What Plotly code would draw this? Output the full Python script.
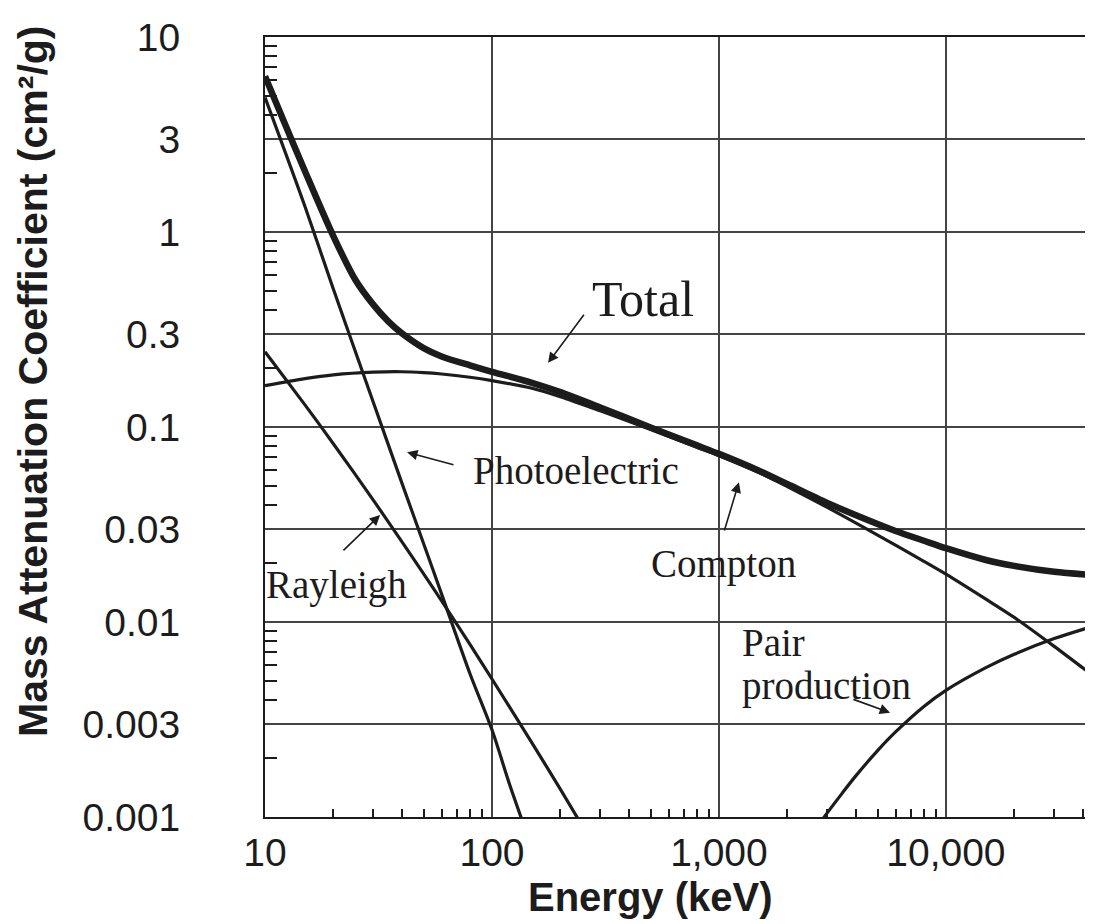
import plotly.graph_objects as go

# ---- data (energy in keV, mass attenuation in cm^2/g) ----
total_E = [10, 12, 15, 20, 25, 30, 35, 40, 50, 60, 80, 100, 150, 200, 300, 500, 800, 1000,
           1500, 2000, 3000, 5000, 6000, 8000, 10000, 15000, 20000, 30000, 45000]
total_mu = [6.3, 3.79, 2.05, 0.953, 0.569, 0.424, 0.347, 0.303, 0.254, 0.230, 0.207, 0.192,
            0.1685, 0.151, 0.126, 0.0995, 0.0805, 0.0728, 0.0597, 0.0510, 0.0408, 0.0318,
            0.0293, 0.0261, 0.0239, 0.0208, 0.0194, 0.0181, 0.0174]

compton_E = [10, 15, 20, 30, 40, 50, 60, 80, 100, 150, 200, 300, 500, 800, 1000, 1500,
             2000, 3000, 5000, 8000, 10000, 15000, 20000, 30000, 45000]
compton_mu = [0.163, 0.177, 0.185, 0.191, 0.192, 0.190, 0.187, 0.180, 0.173, 0.158,
              0.143, 0.121, 0.097, 0.0788, 0.0714, 0.0584, 0.0495, 0.0387, 0.0279, 0.02047,
              0.0176, 0.0131, 0.01056, 0.0075, 0.00525]

photo_E = [10, 15, 20, 30, 40, 50, 60, 80, 100, 120, 140]
photo_mu = [4.9, 1.35, 0.51, 0.134, 0.052, 0.0252, 0.0139, 0.00543, 0.0028, 0.00145, 0.00087]

rayleigh_E = [10, 15, 20, 30, 40, 50, 60, 80, 100, 150, 200, 250]
rayleigh_mu = [0.243, 0.1298, 0.0821, 0.0422, 0.0259, 0.01764, 0.01283, 0.00768, 0.0051,
               0.0024, 0.00139, 0.0009]

pair_E = [2800, 3000, 3500, 4000, 5000, 6000, 8000, 10000, 15000, 20000, 30000, 45000]
pair_mu = [0.00094, 0.00105, 0.00133, 0.00162, 0.00219, 0.00273, 0.00369, 0.00446, 0.00583,
           0.00683, 0.00822, 0.00955]

x_tickvals = [10, 100, 1000, 10000]
x_ticktext = ["10", "100", "1,000", "10,000"]
y_tickvals = [0.001, 0.003, 0.01, 0.03, 0.1, 0.3, 1, 3, 10]
y_ticktext = ["0.001", "0.003", "0.01", "0.03", "0.1", "0.3", "1", "3", "10"]

x_minor = [m * 10 ** d for d in range(1, 5) for m in range(2, 10)]
y_minor = [m * 10.0 ** d for d in range(-3, 1) for m in (2, 4, 5, 6, 7, 8, 9)]

INK = "#1c1c1c"
SANS = "Liberation Sans, Arial, sans-serif"
SERIF = "Liberation Serif, Times New Roman, serif"

fig = go.Figure()

def add_curve(E, mu, width, name):
    fig.add_trace(go.Scatter(x=E, y=mu, mode="lines", name=name,
                             line=dict(color=INK, width=width, shape="spline", smoothing=0.8),
                             hoverinfo="x+y+name"))

add_curve(total_E, total_mu, 6.5, "Total")
add_curve(compton_E, compton_mu, 3.2, "Compton")
add_curve(photo_E, photo_mu, 3.2, "Photoelectric")
add_curve(rayleigh_E, rayleigh_mu, 3.2, "Rayleigh")
add_curve(pair_E, pair_mu, 3.2, "Pair production")

annotations = []

def label(text, x, y, size=39, xanchor="center"):
    annotations.append(dict(text=text, x=x, y=y, xref="x", yref="y", showarrow=False,
                            xanchor=xanchor, yanchor="middle",
                            font=dict(family=SERIF, size=size, color=INK)))

def arrow(x_head, y_head, x_tail, y_tail):
    annotations.append(dict(text="", x=x_head, y=y_head, ax=x_tail, ay=y_tail,
                            xref="x", yref="y", axref="x", ayref="y",
                            showarrow=True, arrowhead=2, arrowsize=1.3, arrowwidth=1.6,
                            arrowcolor=INK))

# positions in log10 units (log axes)
label("Total", 2.665, -0.345, size=50)
arrow(2.247, -0.671, 2.410, -0.417)
label("Photoelectric", 2.370, -1.222)
arrow(1.626, -1.130, 1.837, -1.196)
label("Rayleigh", 1.313, -1.808)
arrow(1.507, -1.451, 1.339, -1.640)
label("Compton", 3.018, -1.700)
arrow(3.088, -1.283, 3.022, -1.538)
label("Pair", 3.093, -2.104, xanchor="left")
label("production", 3.093, -2.327, xanchor="left")
arrow(3.754, -2.465, 3.586, -2.394)

# axis titles
annotations.append(dict(text="<b>Mass Attenuation Coefficient (cm²/g)</b>", xref="paper", yref="paper",
                        x=-0.2802, y=0.559, textangle=-90, showarrow=False,
                        xanchor="center", yanchor="middle",
                        font=dict(family=SANS, size=41, color=INK)))
annotations.append(dict(text="<b>Energy (keV)</b>", xref="paper", yref="paper",
                        x=0.465, y=-0.102, showarrow=False,
                        xanchor="center", yanchor="middle",
                        font=dict(family=SANS, size=40, color=INK)))

fig.update_layout(
    width=1093, height=924,
    margin=dict(l=257, r=8, t=24, b=115),
    paper_bgcolor="white", plot_bgcolor="white",
    showlegend=False,
    annotations=annotations,
    xaxis=dict(type="log", range=[1, 4.648], tickvals=x_tickvals, ticktext=x_ticktext,
               showgrid=True, gridcolor="#444444", gridwidth=1.5,
               showline=True, linecolor=INK, linewidth=2, mirror=True,
               ticks="outside", ticklen=0, ticklabelstandoff=0,
               tickfont=dict(family=SANS, size=39, color=INK), zeroline=False,
               minor=dict(tickvals=x_minor, ticks="inside", ticklen=8, tickwidth=1.5,
                          tickcolor=INK, showgrid=False)),
    yaxis=dict(type="log", range=[-3, 1], tickvals=y_tickvals, ticktext=y_ticktext,
               showgrid=True, gridcolor="#444444", gridwidth=1.5,
               showline=True, linecolor=INK, linewidth=2, mirror=False,
               ticks="outside", ticklen=0, ticklabelstandoff=75,
               tickfont=dict(family=SANS, size=39, color=INK), zeroline=False,
               minor=dict(tickvals=y_minor, ticks="inside", ticklen=12, tickwidth=1.5,
                          tickcolor=INK, showgrid=False)),
)

fig.write_html("out.html")
